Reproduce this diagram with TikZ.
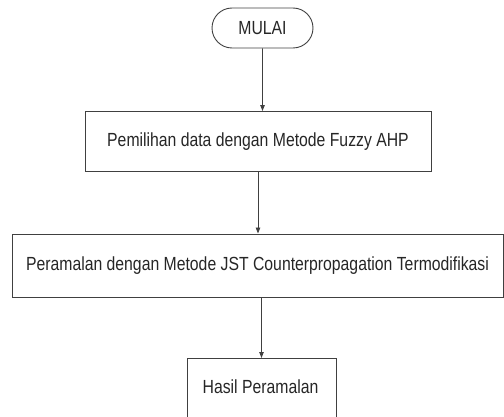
\documentclass[tikz,border=0pt]{standalone}
\usepackage{fontspec}
\setmainfont[FakeStretch=0.83]{Liberation Sans}
\usetikzlibrary{arrows.meta,shapes.misc}
\begin{document}
\begin{tikzpicture}[x=1pt,y=-1pt,
  flowline/.style={draw=black!75,line width=0.9pt},
  labelfont/.style={font=\fontsize{19}{22}\selectfont,text=black!85},
  stepbox/.style={flowline,rectangle,inner sep=0pt,labelfont},
  startbox/.style={flowline,rounded rectangle,inner sep=0pt,labelfont},
  arr/.style={flowline,-{Triangle[length=6pt,width=4.5pt]}}]
\useasboundingbox (0,0) rectangle (504,417);
\node[startbox,minimum width=101pt,minimum height=40pt] (start) at (262.5,28) {MULAI};
\node[stepbox,minimum width=346pt,minimum height=60pt] (fuzzy) at (258,141.5) {Pemilihan data dengan Metode Fuzzy AHP};
\node[stepbox,minimum width=491pt,minimum height=63pt] (jst) at (257.5,265.5) {Peramalan dengan Metode JST Counterpropagation Termodifikasi};
% last box runs past the lower edge of the page
\node[stepbox,minimum width=149pt,minimum height=60pt,anchor=north] (hasil) at (261.5,358) {};
\node[labelfont,anchor=base,inner sep=0pt] (hasillabel) at (260.5,393) {Hasil Peramalan};
\draw[arr] (start) -- (start|-fuzzy.north);
\draw[arr] (fuzzy) -- (fuzzy|-jst.north);
\draw[arr] (jst.south-|hasil) -- (hasil);
\end{tikzpicture}
\end{document}
